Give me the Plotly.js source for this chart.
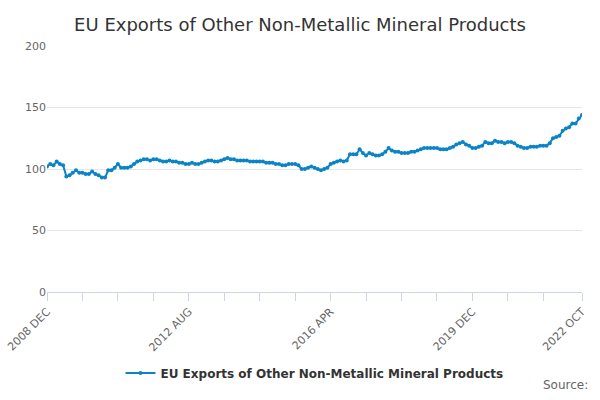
<!DOCTYPE html>
<html>
<head>
<meta charset="utf-8">
<script src="https://cdn.plot.ly/plotly-3.0.1.min.js"></script>
<style>html,body{margin:0;padding:0;background:#fff}#chart{width:600px;height:400px}</style>
</head>
<body>
<div id="chart"></div>
<script>
/* Monthly index, 2008 DEC .. 2022 OCT */
const SERIES_NAME = 'EU Exports of Other Non-Metallic Mineral Products';
const values = [
    102,104,103,106,104,103,94,95,97,99,97,97,
    96,96,98,96,95,93,93,99,99,101,104,101,
    101,101,102,104,106,107,108,108,107,108,108,107,
    106,106,107,106,106,105,105,104,104,105,104,104,
    105,106,107,107,106,106,107,108,109,108,108,107,
    107,107,107,106,106,106,106,106,105,105,105,104,
    104,103,103,104,104,104,103,100,100,101,102,101,
    100,99,100,101,104,105,106,107,106,107,112,112,
    112,116,113,111,113,112,111,111,112,114,117,115,
    114,114,113,113,113,114,114,115,116,117,117,117,
    117,117,116,116,116,117,118,120,121,122,120,119,
    117,117,118,119,122,121,121,123,122,122,121,122,
    122,121,119,118,117,117,118,118,118,119,119,119,
    121,125,126,127,131,133,134,137,137,141,144
];
const tickPos    = [0, 11, 22, 33, 44, 55, 66, 77, 88, 99, 110, 121, 132, 143, 154, 166];
const tickLabels = ['2008 DEC','','','','2012 AUG','','','','2016 APR','','','','2019 DEC','','','2022 OCT'];

const xIdx = values.map((_, i) => i);

Plotly.newPlot('chart', [{
    x: xIdx, y: values, name: SERIES_NAME,
    type: 'scatter', mode: 'lines+markers',
    line: { color: '#0b84c6', width: 2 },
    marker: { color: '#0b84c6', size: 4 }
}], {
    width: 600, height: 400,
    paper_bgcolor: '#fff', plot_bgcolor: '#fff',
    font: { family: 'DejaVu Sans', color: '#666', size: 11 },
    title: { text: 'EU Exports of Other Non-Metallic Mineral Products',
             x: 0.5, xanchor: 'center', y: 0.955,
             font: { size: 18, color: '#333' } },
    margin: { t: 46, b: 91, l: 47, r: 18 },
    xaxis: {
        range: [0, 166], tickvals: tickPos, ticktext: tickLabels,
        tickangle: -45, ticks: 'outside', ticklen: 8, tickcolor: '#ccd6eb',
        showgrid: false, zeroline: false, showline: true, linecolor: '#ccd6eb',
        tickfont: { size: 11, color: '#666' }
    },
    yaxis: {
        range: [0, 200], dtick: 50, gridcolor: '#e6e6e6', zeroline: false,
        tickfont: { size: 11, color: '#666' }
    },
    showlegend: true,
    legend: { orientation: 'h', x: 0.5, xanchor: 'center', y: -0.27, yanchor: 'top',
              font: { size: 12, color: '#333', weight: 'bold' } },
    annotations: [{
        text: 'Source:', xref: 'paper', yref: 'paper', x: 1.015, y: -0.34,
        xanchor: 'right', yanchor: 'top', showarrow: false,
        font: { size: 12, color: '#666' }
    }]
}, { displayModeBar: false });
</script>
</body>
</html>
